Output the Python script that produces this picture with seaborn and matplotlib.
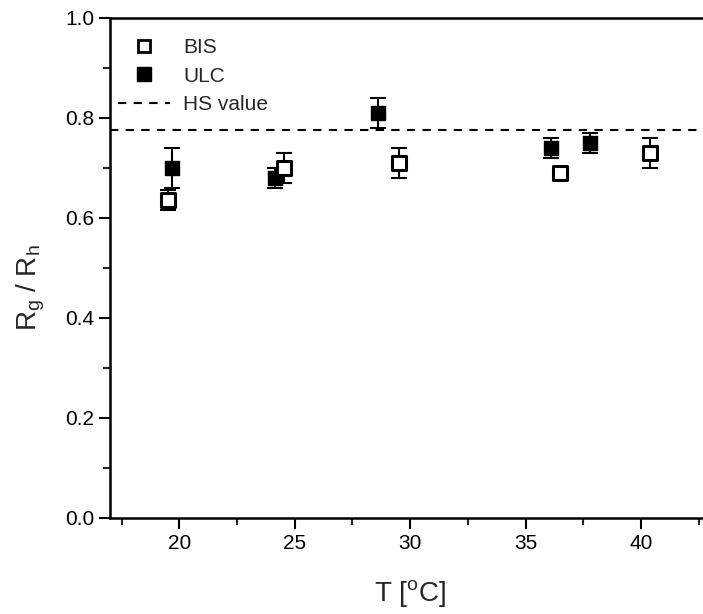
import matplotlib
matplotlib.use('Agg')
import matplotlib.pyplot as plt
from matplotlib.ticker import MultipleLocator
from matplotlib.lines import Line2D
import seaborn as sns

# datos
bis_T = [19.5, 24.55, 29.5, 36.5, 40.4]
bis_r = [0.636, 0.70, 0.71, 0.69, 0.73]
bis_err = [0.02, 0.03, 0.03, 0.005, 0.03]

ulc_T = [19.7, 24.15, 28.6, 36.1, 37.8]
ulc_r = [0.70, 0.68, 0.81, 0.74, 0.75]
ulc_err = [0.04, 0.02, 0.03, 0.02, 0.02]

hs_value = 0.775

sns.set_style('ticks')
plt.rcParams['font.family'] = ['Liberation Sans', 'DejaVu Sans']
plt.rcParams['mathtext.default'] = 'regular'

fig = plt.figure(figsize=(7.03, 6.14), dpi=100)
ax = fig.add_axes([0.1565, 0.1564, 0.854, 0.8143])

ax.axhline(hs_value, color='black', lw=1.5, linestyle=(0, (4, 3.5)), zorder=1)

# barras de error
ax.errorbar(ulc_T, ulc_r, yerr=ulc_err, fmt='none', ecolor='black',
            elinewidth=1.5, capsize=6, capthick=1.5, zorder=2)
ax.errorbar(bis_T, bis_r, yerr=bis_err, fmt='none', ecolor='black',
            elinewidth=1.5, capsize=6, capthick=1.5, zorder=2)

sns.scatterplot(x=ulc_T, y=ulc_r, marker='s', s=110, color='black',
                edgecolor='black', linewidth=1, ax=ax, zorder=3)
sns.scatterplot(x=bis_T, y=bis_r, marker='s', s=95, color='white',
                edgecolor='black', linewidth=2.2, ax=ax, zorder=4)

ax.set_xlim(17, 43)
ax.set_ylim(0, 1.0)
ax.xaxis.set_major_locator(MultipleLocator(5))
ax.xaxis.set_minor_locator(MultipleLocator(2.5))
ax.yaxis.set_major_locator(MultipleLocator(0.2))
ax.yaxis.set_minor_locator(MultipleLocator(0.1))
ax.yaxis.set_major_formatter(matplotlib.ticker.FormatStrFormatter('%.1f'))

for s in ax.spines.values():
    s.set_linewidth(1.8)
    s.set_color('black')
ax.tick_params(which='major', direction='out', length=8, width=1.5,
               labelsize=15, colors='black')
ax.tick_params(which='minor', direction='out', length=5, width=1.5)

ax.set_xlabel('T [$^{o}$C]', fontsize=20, labelpad=18)
ax.set_ylabel('R$_{g}$ / R$_{h}$', fontsize=20)
ax.yaxis.set_label_coords(-0.105, 0.46)

handles = [
    Line2D([], [], marker='s', ls='none', mfc='white', mec='black', mew=2, ms=9),
    Line2D([], [], marker='s', ls='none', mfc='black', mec='black', ms=10),
    Line2D([], [], color='black', lw=1.5, ls=(0, (4, 3.5))),
]
ax.legend(handles, ['BIS', 'ULC', 'HS value'], loc='upper left',
          bbox_to_anchor=(-0.018, 0.997), frameon=False, fontsize=15,
          handlelength=2.5, labelspacing=0.45, handletextpad=0.63)

fig.savefig('out.png', dpi=100)
